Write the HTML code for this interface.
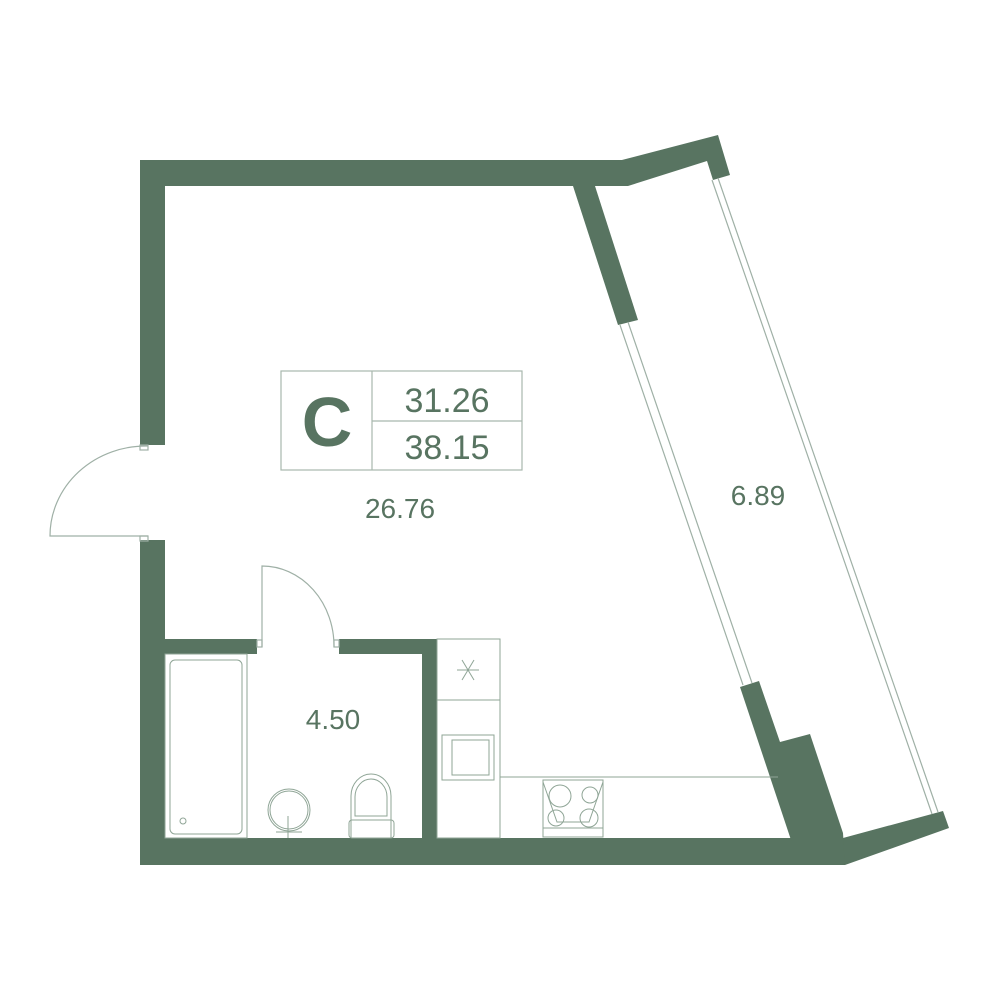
<!DOCTYPE html>
<html><head><style>body{margin:0;background:#fff}svg{display:block}</style></head><body>
<svg width="1000" height="1000" viewBox="0 0 1000 1000" xmlns="http://www.w3.org/2000/svg">
<g fill="#587461">
<rect x="140" y="160" width="482" height="26"/>
<rect x="140" y="160" width="25" height="285"/>
<rect x="140" y="540" width="25" height="325"/>
<rect x="140" y="838" width="705" height="27"/>
<polygon points="618,161 718,135 730,175 713,180 707,161 628,186 618,186"/>
<polygon points="573,186 595,186 638,320 618,325"/>
<polygon points="740,687 759,681 780,742 810,734 843,833 845,865 792,865 792,843"/>
<polygon points="843,838 943,811 949,828 845,865"/>
<rect x="165" y="639" width="92" height="15"/>
<rect x="339" y="639" width="98" height="15"/>
<rect x="422" y="639" width="15" height="200"/>
</g>
<g fill="none" stroke="#9fb0a6" stroke-width="1.2">
<line x1="620" y1="325" x2="743" y2="685"/>
<line x1="628" y1="322" x2="752" y2="683"/>
<line x1="712" y1="180" x2="932" y2="814"/>
<line x1="718" y1="178" x2="938" y2="812"/>
<rect x="140" y="445" width="8" height="5"/>
<rect x="140" y="536" width="8" height="5"/>
<path d="M148,446 A96,90 0 0 0 50,536 L148,536"/>
<path d="M262,647 L262,566 A72,80 0 0 1 334,647"/>
<rect x="257" y="640" width="5" height="7"/>
<rect x="334" y="640" width="5" height="7"/>
</g>
<g fill="none" stroke="#8fa596" stroke-width="1">
<rect x="165" y="654" width="82" height="184"/>
<rect x="170" y="660" width="72" height="174" rx="5"/>
<circle cx="183" cy="821" r="3"/>
<circle cx="289" cy="810" r="21"/>
<circle cx="289" cy="810" r="19"/>
<line x1="288" y1="816" x2="288" y2="838"/>
<line x1="276" y1="832" x2="302" y2="832"/>
<path d="M351,838 L351,796 A20,22 0 0 1 391,796 L391,838"/>
<path d="M355,816 L355,797 A16,18 0 0 1 387,797 L387,816 Z"/>
<rect x="349" y="820" width="45" height="18" rx="3"/>
<rect x="437" y="639" width="63" height="199"/>
<line x1="437" y1="700" x2="500" y2="700"/>
<line x1="457" y1="670" x2="479" y2="670"/><line x1="462" y1="660" x2="474" y2="680"/><line x1="474" y1="660" x2="462" y2="680"/>
<rect x="442" y="735" width="52" height="45"/>
<rect x="452" y="740" width="37" height="35"/>
<line x1="500" y1="777" x2="778" y2="777"/>
<rect x="543" y="780" width="60" height="57"/>
<circle cx="560" cy="796" r="11"/><circle cx="590" cy="795" r="8"/>
<circle cx="556" cy="818" r="8"/><circle cx="589" cy="818" r="9"/>
<polyline points="543,782 557,822 589,822 603,782"/>
<line x1="543" y1="828" x2="603" y2="828"/>
</g>
<g fill="none" stroke="#a8b8ad" stroke-width="1.2">
<rect x="281" y="371" width="241" height="99"/>
<line x1="372" y1="371" x2="372" y2="470"/>
<line x1="372" y1="421" x2="522" y2="421"/>
</g>
<g fill="#587461" font-family="Liberation Sans, sans-serif" text-anchor="middle">
<text x="327" y="446" font-size="70" font-weight="bold">C</text>
<text x="447" y="412" font-size="34">31.26</text>
<text x="447" y="459" font-size="34">38.15</text>
<text x="400" y="518" font-size="28">26.76</text>
<text x="758" y="505" font-size="28">6.89</text>
<text x="333" y="729" font-size="28">4.50</text>
</g>
</svg>
</body></html>
